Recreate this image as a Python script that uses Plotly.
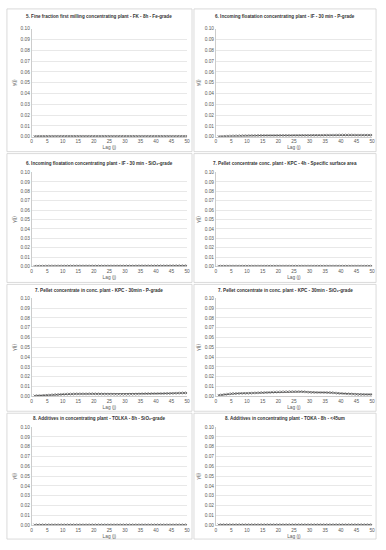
import plotly.graph_objects as go

lags = list(range(1, 51))

titles = [
    "5. Fine fraction first milling concentrating plant - FK - 8h - Fe-grade",
    "6. Incoming floatation concentrating plant - IF - 30 min - P-grade",
    "6. Incoming floatation concentrating plant - IF - 30 min - SiO₂-grade",
    "7. Pellet concentrate conc. plant - KPC - 4h - Specific surface area",
    "7. Pellet concentrate in conc. plant - KPC - 30min - P-grade",
    "7. Pellet concentrate in conc. plant - KPC - 30min - SiO₂-grade",
    "8. Additives in concentrating plant - TOLKA - 8h - SiO₂-grade",
    "8. Additives in concentrating plant - TOKA - 8h - <45um",
]

fk_fe = [0.0004, 0.0005, 0.0005, 0.0005, 0.0005, 0.0005, 0.0005, 0.0005, 0.0005, 0.0005,
         0.0005, 0.0005, 0.0005, 0.0005, 0.0005, 0.0005, 0.0005, 0.0005, 0.0005, 0.0005,
         0.0005, 0.0005, 0.0005, 0.0005, 0.0005, 0.0005, 0.0005, 0.0005, 0.0005, 0.0005,
         0.0005, 0.0005, 0.0005, 0.0005, 0.0005, 0.0005, 0.0005, 0.0005, 0.0005, 0.0005,
         0.0005, 0.0005, 0.0005, 0.0005, 0.0005, 0.0005, 0.0005, 0.0005, 0.0005, 0.0005]
if_p = [0.0003, 0.0004, 0.0005, 0.0006, 0.0007, 0.0008, 0.0008, 0.0009, 0.0010, 0.0010,
        0.0011, 0.0011, 0.0011, 0.0012, 0.0012, 0.0012, 0.0012, 0.0012, 0.0012, 0.0012,
        0.0012, 0.0012, 0.0012, 0.0012, 0.0013, 0.0013, 0.0013, 0.0013, 0.0013, 0.0013,
        0.0014, 0.0014, 0.0014, 0.0014, 0.0015, 0.0015, 0.0015, 0.0015, 0.0016, 0.0016,
        0.0016, 0.0016, 0.0016, 0.0016, 0.0015, 0.0015, 0.0015, 0.0015, 0.0015, 0.0015]
if_sio2 = [0.0004, 0.0005, 0.0005, 0.0005, 0.0006, 0.0006, 0.0006, 0.0006, 0.0006, 0.0006,
           0.0006, 0.0006, 0.0006, 0.0006, 0.0006, 0.0006, 0.0006, 0.0006, 0.0006, 0.0006,
           0.0006, 0.0006, 0.0006, 0.0006, 0.0006, 0.0006, 0.0006, 0.0006, 0.0006, 0.0006,
           0.0006, 0.0006, 0.0006, 0.0007, 0.0007, 0.0007, 0.0007, 0.0007, 0.0007, 0.0007,
           0.0007, 0.0007, 0.0007, 0.0007, 0.0008, 0.0008, 0.0008, 0.0008, 0.0008, 0.0008]
kpc_ssa = [0.0005, 0.0005, 0.0005, 0.0005, 0.0005, 0.0005, 0.0005, 0.0005, 0.0005, 0.0005,
           0.0005, 0.0005, 0.0005, 0.0005, 0.0005, 0.0005, 0.0005, 0.0005, 0.0005, 0.0005,
           0.0005, 0.0005, 0.0005, 0.0005, 0.0005, 0.0005, 0.0005, 0.0005, 0.0005, 0.0005,
           0.0005, 0.0005, 0.0005, 0.0005, 0.0005, 0.0005, 0.0005, 0.0005, 0.0005, 0.0005,
           0.0005, 0.0005, 0.0005, 0.0005, 0.0005, 0.0005, 0.0005, 0.0005, 0.0005, 0.0005]
kpc_p = [0.0006, 0.0008, 0.0009, 0.0011, 0.0012, 0.0014, 0.0016, 0.0018, 0.0020, 0.0022,
         0.0023, 0.0024, 0.0024, 0.0025, 0.0025, 0.0025, 0.0025, 0.0025, 0.0026, 0.0026,
         0.0025, 0.0025, 0.0024, 0.0024, 0.0023, 0.0023, 0.0022, 0.0022, 0.0022, 0.0022,
         0.0022, 0.0023, 0.0023, 0.0024, 0.0025, 0.0026, 0.0027, 0.0027, 0.0028, 0.0028,
         0.0029, 0.0029, 0.0030, 0.0030, 0.0031, 0.0032, 0.0033, 0.0034, 0.0035, 0.0035]
kpc_sio2 = [0.0012, 0.0016, 0.0020, 0.0024, 0.0028, 0.0029, 0.0030, 0.0031, 0.0032, 0.0032,
            0.0033, 0.0034, 0.0035, 0.0037, 0.0038, 0.0040, 0.0041, 0.0043, 0.0044, 0.0045,
            0.0046, 0.0047, 0.0047, 0.0048, 0.0048, 0.0048, 0.0048, 0.0047, 0.0045, 0.0042,
            0.0041, 0.0040, 0.0040, 0.0040, 0.0040, 0.0039, 0.0038, 0.0035, 0.0032, 0.0030,
            0.0028, 0.0026, 0.0025, 0.0023, 0.0021, 0.0020, 0.0020, 0.0020, 0.0020, 0.0020]
tolka_sio2 = [0.0003, 0.0003, 0.0003, 0.0003, 0.0003, 0.0003, 0.0003, 0.0003, 0.0003, 0.0003,
              0.0003, 0.0003, 0.0003, 0.0003, 0.0003, 0.0003, 0.0003, 0.0003, 0.0003, 0.0003,
              0.0003, 0.0003, 0.0003, 0.0003, 0.0003, 0.0003, 0.0003, 0.0003, 0.0003, 0.0003,
              0.0003, 0.0003, 0.0003, 0.0003, 0.0003, 0.0003, 0.0003, 0.0003, 0.0003, 0.0003,
              0.0003, 0.0003, 0.0003, 0.0003, 0.0003, 0.0003, 0.0003, 0.0003, 0.0003, 0.0003]
toka_45 = [0.0004, 0.0004, 0.0004, 0.0004, 0.0004, 0.0004, 0.0004, 0.0004, 0.0004, 0.0004,
           0.0004, 0.0004, 0.0004, 0.0004, 0.0004, 0.0004, 0.0004, 0.0004, 0.0004, 0.0004,
           0.0004, 0.0004, 0.0004, 0.0004, 0.0004, 0.0004, 0.0004, 0.0004, 0.0004, 0.0004,
           0.0004, 0.0004, 0.0004, 0.0004, 0.0004, 0.0004, 0.0004, 0.0004, 0.0004, 0.0004,
           0.0004, 0.0004, 0.0004, 0.0004, 0.0004, 0.0004, 0.0004, 0.0004, 0.0004, 0.0004]

series = [fk_fe, if_p, if_sio2, kpc_ssa, kpc_p, kpc_sio2, tolka_sio2, toka_45]
y_ticks = [0.00, 0.01, 0.02, 0.03, 0.04, 0.05, 0.06, 0.07, 0.08, 0.09, 0.10]
x_ticks = [0, 5, 10, 15, 20, 25, 30, 35, 40, 45, 50]

W, H = 386, 550
# panel boxes (px): left, right, top, bottom
panel_cols = [(6, 193), (195, 379)]
panel_rows = [(7, 151), (153, 283), (285, 413), (415, 542)]
# plot areas (px)
plot_cols = [(31, 188), (217, 375)]
plot_rows = [(27, 136), (172, 267), (299, 398), (429, 528)]
title_y = [15, 163, 291, 420]

FONT = "Liberation Sans"
TXT = "#595959"
fig = go.Figure()
shapes = []
annotations = []
for i in range(8):
    r, c = divmod(i, 2)
    ax = "" if i == 0 else str(i + 1)
    x0, x1 = plot_cols[c]
    y0, y1 = plot_rows[r]
    fig.add_trace(go.Scatter(
        x=lags, y=series[i], mode="lines+markers",
        line=dict(color="#595959", width=0.8),
        marker=dict(symbol="x-thin-open", size=2.5, color="#404040",
                    line=dict(width=0.6, color="#404040")),
        xaxis="x" + ax, yaxis="y" + ax, showlegend=False))
    fig.layout["xaxis" + ax] = dict(
        domain=[x0 / W, x1 / W], anchor="y" + ax, range=[0, 50],
        tickvals=x_ticks, ticks="", showgrid=False, zeroline=False,
        showline=True, linecolor="#bfbfbf", linewidth=0.8,
        tickfont=dict(size=4.8, family=FONT, color=TXT),
        title=dict(text="Lag (j)", font=dict(size=4.8, family=FONT, color=TXT), standoff=2))
    fig.layout["yaxis" + ax] = dict(
        domain=[1 - y1 / H, 1 - y0 / H], anchor="x" + ax, range=[0, 0.1],
        tickvals=y_ticks, tickformat=".2f", ticks="", showgrid=True,
        gridcolor="#d9d9d9", gridwidth=0.6, zeroline=False,
        showline=True, linecolor="#bfbfbf", linewidth=0.8,
        tickfont=dict(size=4.8, family=FONT, color=TXT),
        title=dict(text="γ(j)", font=dict(size=4.8, family=FONT, color=TXT), standoff=3))
    px0, px1 = panel_cols[c]
    py0, py1 = panel_rows[r]
    shapes.append(dict(type="rect", xref="paper", yref="paper",
                       x0=px0 / W, x1=px1 / W, y0=1 - py1 / H, y1=1 - py0 / H,
                       line=dict(color="#d0d0d0", width=0.8), layer="below"))
    annotations.append(dict(text="<b>" + titles[i] + "</b>", xref="paper", yref="paper",
                            x=(px0 + px1) / 2 / W, y=1 - title_y[r] / H,
                            xanchor="center", yanchor="middle", showarrow=False,
                            font=dict(size=4.6, family=FONT, color="#333333")))

fig.update_layout(width=W, height=H, margin=dict(l=0, r=0, t=0, b=0),
                  paper_bgcolor="white", plot_bgcolor="white",
                  shapes=shapes, annotations=annotations)
fig.write_html("out.html", config={"displayModeBar": False, "staticPlot": True},
               post_script="document.body.style.margin='0';document.body.style.padding='0';document.body.style.overflow='hidden';")
